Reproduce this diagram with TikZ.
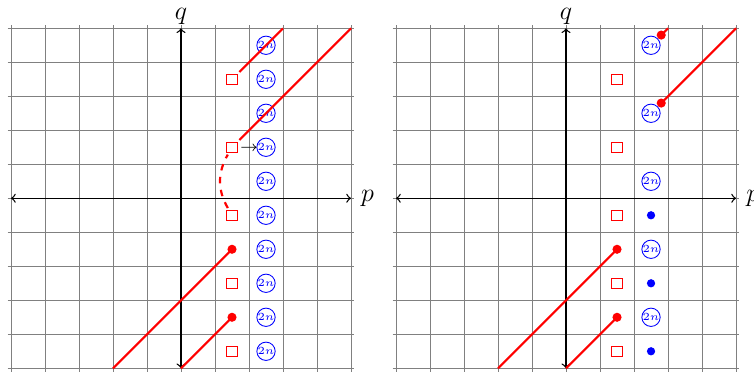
\documentclass[tikz,border=0pt]{standalone}
\usepackage{amsmath,amssymb}
\usepackage{tikz}
\usetikzlibrary{arrows,positioning}

\begin{document}
\begin{tikzpicture}[
    scale=0.55,
    gridline/.style={gray, line width=0.4pt},
    axis/.style={semithick,<->},
    pole/.style={rectangle, draw=red, line width=0.5pt, minimum size=4.7pt, inner sep=0pt, outer sep=1pt},
    reddot/.style={circle, fill=red, minimum size=4.2pt, inner sep=0pt},
    bluedot/.style={circle, fill=blue, minimum size=3.8pt, inner sep=0pt},
    zero/.style={circle, draw=blue, text=blue, inner sep=0pt, font=\tiny},
    cut/.style={red, line width=1pt},
    move/.style={->, shorten <=1pt}
]
    \useasboundingbox (-5.324,-5.226) rectangle (16.853,5.832);

    % left plane
    \draw[gridline] (-5.1,-5.1) grid (5.1,5.1);
    \coordinate (lwest) at (-5,0);
    \coordinate (least) at (5,0);
    \coordinate (lsouth) at (0,-5);
    \coordinate (lnorth) at (0,5);
    \draw[axis] (lwest) -- (least);
    \draw[axis] (lsouth) -- (lnorth);
    \node[right=4.5pt of least, inner sep=0pt, font=\large] (lp) {$p$};
    \node[above=1.5pt of lnorth, inner sep=0pt, font=\large] (lq) {$q$};

    \node[pole] (lsq1) at (1.5,3.5) {};
    \node[pole] (lsq2) at (1.5,1.5) {};
    \node[pole] (lsq3) at (1.5,-0.5) {};
    \node[pole] (lsq4) at (1.5,-2.5) {};
    \node[pole] (lsq5) at (1.5,-4.5) {};

    \node[zero] (lz1) at (2.5,4.5) {$2n$};
    \node[zero] (lz2) at (2.5,3.5) {$2n$};
    \node[zero] (lz3) at (2.5,2.5) {$2n$};
    \node[zero] (lz4) at (2.5,1.5) {$2n$};
    \node[zero] (lz5) at (2.5,0.5) {$2n$};
    \node[zero] (lz6) at (2.5,-0.5) {$2n$};
    \node[zero] (lz7) at (2.5,-1.5) {$2n$};
    \node[zero] (lz8) at (2.5,-2.5) {$2n$};
    \node[zero] (lz9) at (2.5,-3.5) {$2n$};
    \node[zero] (lz10) at (2.5,-4.5) {$2n$};

    \coordinate (lend1) at (3,5);
    \coordinate (lend2) at (5,5);
    \coordinate (lend3) at (-2,-5);
    \coordinate (lend4) at (0,-5);

    \draw[cut] (lsq1) -- (lend1);
    \draw[cut] (lsq2) -- (lend2);
    \draw[cut, dashed] (lsq3) to[bend left=30] (lsq2);
    \draw[move] (lsq2) -- (lz4);

    \node[reddot] (ldot1) at (1.5,-1.5) {};
    \node[reddot] (ldot2) at (1.5,-3.5) {};
    \draw[cut] (ldot1.center) -- (lend3);
    \draw[cut] (ldot2.center) -- (lend4);

    % right plane
    \begin{scope}[shift={(11.324,0)}]
    \draw[gridline] (-5.1,-5.1) grid (5.1,5.1);
    \coordinate (rwest) at (-5,0);
    \coordinate (reast) at (5,0);
    \coordinate (rsouth) at (0,-5);
    \coordinate (rnorth) at (0,5);
    \draw[axis] (rwest) -- (reast);
    \draw[axis] (rsouth) -- (rnorth);
    \node[right=4.5pt of reast, inner sep=0pt, font=\large] (rp) {$p$};
    \node[above=1.5pt of rnorth, inner sep=0pt, font=\large] (rq) {$q$};

    \node[pole] (rsq1) at (1.5,3.5) {};
    \node[pole] (rsq2) at (1.5,1.5) {};
    \node[pole] (rsq3) at (1.5,-0.5) {};
    \node[pole] (rsq4) at (1.5,-2.5) {};
    \node[pole] (rsq5) at (1.5,-4.5) {};

    \node[zero] (rz1) at (2.5,4.5) {$2n$};
    \node[zero] (rz2) at (2.5,2.5) {$2n$};
    \node[zero] (rz3) at (2.5,0.5) {$2n$};
    \node[zero] (rz4) at (2.5,-1.5) {$2n$};
    \node[zero] (rz5) at (2.5,-3.5) {$2n$};
    \node[bluedot] (rb1) at (2.5,-0.5) {};
    \node[bluedot] (rb2) at (2.5,-2.5) {};
    \node[bluedot] (rb3) at (2.5,-4.5) {};

    \coordinate (rend1) at (3,5);
    \coordinate (rend2) at (5,5);
    \coordinate (rend3) at (-2,-5);
    \coordinate (rend4) at (0,-5);

    \node[reddot] (rdot1) at (2.8,4.8) {};
    \node[reddot] (rdot2) at (2.8,2.8) {};
    \node[reddot] (rdot3) at (1.5,-1.5) {};
    \node[reddot] (rdot4) at (1.5,-3.5) {};
    \draw[cut] (rdot1.center) -- (rend1);
    \draw[cut] (rdot2.center) -- (rend2);
    \draw[cut] (rdot3.center) -- (rend3);
    \draw[cut] (rdot4.center) -- (rend4);
    \end{scope}
\end{tikzpicture}
\end{document}
